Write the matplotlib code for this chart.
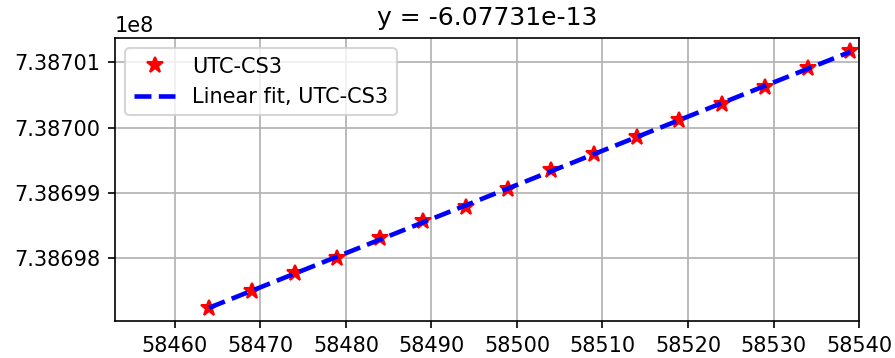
import matplotlib
matplotlib.use('Agg')
import matplotlib.pyplot as plt
import numpy as np

# MJD and UTC-CS3 offsets
mjd = np.array([58464, 58469, 58474, 58479, 58484, 58489, 58494, 58499,
                58504, 58509, 58514, 58519, 58524, 58529, 58534, 58539])
utc_cs3 = np.array([738697229, 738697489, 738697771, 738698000, 738698298,
                    738698565, 738698786, 738699061, 738699351, 738699595,
                    738699855, 738700115, 738700359, 738700618, 738700908,
                    738701176], dtype=float)
title_text = 'y = -6.07731e-13'

coef = np.polyfit(mjd, utc_cs3, 1)
fit = np.polyval(coef, mjd)

dpi = 150
fig = plt.figure(figsize=(895 / dpi, 358 / dpi), dpi=dpi)
ax = fig.add_axes([0.1285, 0.1034, 0.8313, 0.7905])
ax.plot(mjd, utc_cs3, 'r*', markersize=8, label='UTC-CS3')
ax.plot(mjd, fit, 'b--', linewidth=2.2, label='Linear fit, UTC-CS3')
ax.set_xlim(58453, 58540)
ax.ticklabel_format(axis='y', style='sci', scilimits=(0, 0), useOffset=False)
ax.grid(True)
ax.legend(loc='upper left')
ax.set_title(title_text)
fig.savefig('out.png', dpi=dpi)
